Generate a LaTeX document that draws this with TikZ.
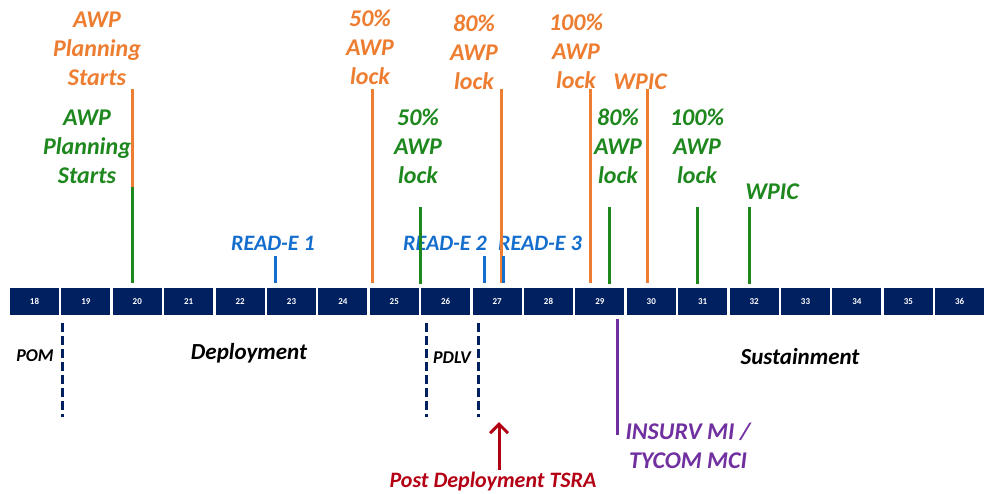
\documentclass[tikz,border=0pt]{standalone}
\usepackage{fontspec}
\setmainfont{Carlito}
\usetikzlibrary{arrows.meta}
\definecolor{awporange}{RGB}{237,125,49}
\definecolor{awpgreen}{RGB}{30,135,30}
\definecolor{readblue}{RGB}{20,110,205}
\definecolor{monthnavy}{RGB}{0,32,96}
\definecolor{insurvpurple}{RGB}{112,48,160}
\definecolor{tsrared}{RGB}{180,0,20}
\tikzset{
  month/.style={fill=monthnavy, text=white, minimum width=49pt, minimum height=27pt,
    inner sep=0pt, font=\bfseries\fontsize{9}{9}\selectfont},
  milestone/.style={align=center, inner sep=0pt, font=\bfseries\itshape\fontsize{24}{29}\selectfont},
  readlbl/.style={inner sep=0pt, font=\bfseries\itshape\fontsize{22}{26}\selectfont},
  phase/.style={inner sep=0pt, font=\bfseries\itshape\fontsize{23}{26}\selectfont},
  smallphase/.style={inner sep=0pt, font=\bfseries\itshape\fontsize{18}{20}\selectfont},
  tick/.style={line width=3pt},
  gate/.style={monthnavy, line width=3pt, dash pattern=on 9pt off 4pt},
}
\begin{document}
\begin{tikzpicture}[x=1pt,y=-1pt]
  \useasboundingbox (0,0) rectangle (984,493);
  % months
  \foreach \m [count=\i from 0] in {18,...,36}
    \node[month] (m\m) at (34.5+\i*51.4,301.5) {\m};
  \coordinate (axis) at (0,284);
  % orange milestones
  \draw
    (97,49) node[milestone, awporange] (op){AWP\\Planning\\Starts}
    (370,47) node[milestone, awporange] (o50){50\%\\AWP\\lock}
    (474,52) node[milestone, awporange] (o80){80\%\\AWP\\lock}
    (576,51) node[milestone, awporange] (o100){100\%\\AWP\\lock}
    (640,82) node[milestone, awporange] (owpic){WPIC};
  % green milestones
  \draw
    (87,147) node[milestone, awpgreen] (gp){AWP\\Planning\\Starts}
    (418,146) node[milestone, awpgreen] (g50){50\%\\AWP\\lock}
    (618,146) node[milestone, awpgreen] (g80){80\%\\AWP\\lock}
    (697,146) node[milestone, awpgreen] (g100){100\%\\AWP\\lock}
    (772,192) node[milestone, awpgreen] (gwpic){WPIC};
  % readiness evaluations
  \draw
    (273,243) node[readlbl, readblue] (r1){READ-E 1}
    (445,243) node[readlbl, readblue] (r2){READ-E 2}
    (540,243) node[readlbl, readblue] (r3){READ-E 3};
  \begin{scope}[tick]
    \foreach \x in {132,372,501,590,647}
      \draw[awporange] (\x,89) -- (\x,283);
    \draw[awpgreen] (132,187) -- (132,283);
    \foreach \x in {420,609,697,749}
      \draw[awpgreen] (\x,207) -- (\x,284);
    \foreach \x in {275,484,503}
      \draw[readblue] (\x,256) -- (\x,283);
  \end{scope}
  % phases
  \foreach \x in {62,426,478}
    \draw[gate] (\x,323) -- (\x,417);
  \draw
    (35,356) node[smallphase] (pom){POM}
    (249,353) node[phase] (dep){Deployment}
    (452,358) node[smallphase] (pdlv){PDLV}
    (800,357) node[phase] (sus){Sustainment};
  % inspections
  \node[milestone, insurvpurple] (insurv) at (688,446) {INSURV MI /\\TYCOM MCI};
  \draw[insurvpurple, line width=3pt] (617,319) -- (617,435);
  \node[readlbl, tsrared] (tsra) at (493,482) {Post Deployment TSRA};
  \draw[tsrared, line width=3pt, -{Straight Barb[length=9pt,width=18pt,line width=3pt]}]
    (tsra.north -| 499,0) ++(0,-2) -- (499,422);
\end{tikzpicture}
\end{document}
